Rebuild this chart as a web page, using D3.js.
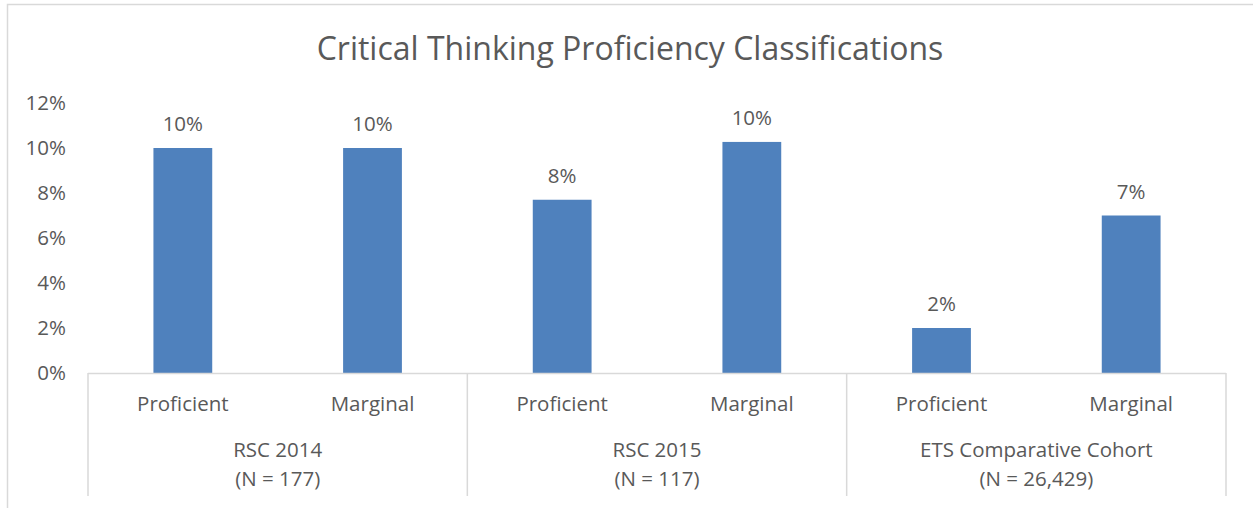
<!DOCTYPE html>
<html>
<head>
<meta charset="utf-8">
<script src="https://cdn.jsdelivr.net/npm/d3@7"></script>
<style>
  body { margin: 0; background: #fff; }
  text { font-family: "Open Sans", sans-serif; fill: #595959; }
</style>
</head>
<body>
<script>
// data
const groups = ['RSC 2014', 'RSC 2015', 'ETS Comparative Cohort'];
const groupN = ['(N = 177)', '(N = 117)', '(N = 26,429)'];
const levels = ['Proficient', 'Marginal'];
const values = [
  [0.100, 0.100],
  [0.077, 0.1027],
  [0.020, 0.070]
];
const yTicks = [0, 0.02, 0.04, 0.06, 0.08, 0.10, 0.12];

const W = 1253, H = 508;
const svg = d3.select('body').append('svg')
  .attr('width', W)
  .attr('height', H);

// chart frame
svg.append('path')
  .attr('d', 'M7.5,' + H + ' V4.5 H' + W)
  .attr('fill', 'none')
  .attr('stroke', '#d9d9d9')
  .attr('stroke-width', 1.5);

const plot = {left: 88, right: 1226, top: 103, bottom: 373};
const fs = '20.5px';

svg.append('text')
  .attr('x', 630)
  .attr('y', 60)
  .attr('text-anchor', 'middle')
  .style('font-size', '32px')
  .text('Critical Thinking Proficiency Classifications');

const rows = [];
groups.forEach((g, i) => levels.forEach((l, j) => rows.push({g: g, i: i, level: l, v: values[i][j]})));

const x = d3.scaleBand()
  .domain(rows.map(d => d.g + '|' + d.level))
  .range([plot.left, plot.right]);

const y = d3.scaleLinear()
  .domain([0, 0.12])
  .range([plot.bottom, plot.top]);

const fmt = d3.format('.0%');

// y tick labels
svg.selectAll('.ytick')
  .data(yTicks)
  .enter().append('text')
    .attr('class', 'ytick')
    .attr('x', 66)
    .attr('y', d => y(d))
    .attr('dy', '0.35em')
    .attr('text-anchor', 'end')
    .style('font-size', fs)
    .text(fmt);

// bars
const barW = x.bandwidth() * 0.31;
svg.selectAll('.bar')
  .data(rows)
  .enter().append('rect')
    .attr('class', 'bar')
    .attr('x', d => x(d.g + '|' + d.level) + (x.bandwidth() - barW) / 2)
    .attr('y', d => y(d.v))
    .attr('width', barW)
    .attr('height', d => y(0) - y(d.v))
    .attr('fill', '#4f81bd');

// value labels
svg.selectAll('.val')
  .data(rows)
  .enter().append('text')
    .attr('class', 'val')
    .attr('x', d => x(d.g + '|' + d.level) + x.bandwidth() / 2)
    .attr('y', d => y(d.v) - 24)
    .attr('dy', '0.35em')
    .attr('text-anchor', 'middle')
    .style('font-size', fs)
    .text(d => fmt(d.v));

// category axis
const axisCol = '#d9d9d9';
svg.append('line')
  .attr('x1', plot.left).attr('x2', plot.right)
  .attr('y1', plot.bottom + 0.5).attr('y2', plot.bottom + 0.5)
  .attr('stroke', axisCol).attr('stroke-width', 1.5);

const groupEdges = groups.map((g, i) => x(g + '|' + levels[0])).concat([plot.right]);
svg.selectAll('.sep')
  .data(groupEdges)
  .enter().append('line')
    .attr('class', 'sep')
    .attr('x1', d => d).attr('x2', d => d)
    .attr('y1', plot.bottom).attr('y2', 496)
    .attr('stroke', axisCol).attr('stroke-width', 1.5);

svg.selectAll('.cat')
  .data(rows)
  .enter().append('text')
    .attr('class', 'cat')
    .attr('x', d => x(d.g + '|' + d.level) + x.bandwidth() / 2)
    .attr('y', 404)
    .attr('dy', '0.35em')
    .attr('text-anchor', 'middle')
    .style('font-size', fs)
    .text(d => d.level);

const grp = svg.selectAll('.grp')
  .data(groups)
  .enter().append('text')
    .attr('class', 'grp')
    .attr('text-anchor', 'middle')
    .style('font-size', fs);
grp.append('tspan')
  .attr('x', (d, i) => (groupEdges[i] + groupEdges[i + 1]) / 2)
  .attr('y', 450)
  .attr('dy', '0.35em')
  .text(d => d);
grp.append('tspan')
  .attr('x', (d, i) => (groupEdges[i] + groupEdges[i + 1]) / 2)
  .attr('y', 479)
  .attr('dy', '0.35em')
  .text((d, i) => groupN[i]);
</script>
</body>
</html>
